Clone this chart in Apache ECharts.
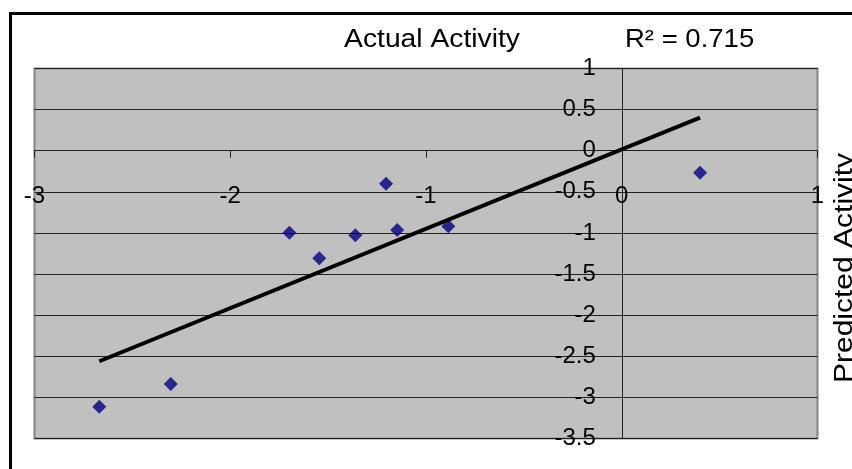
<!DOCTYPE html>
<html>
<head>
<meta charset="utf-8">
<script src="https://cdn.jsdelivr.net/npm/echarts@6/dist/echarts.min.js"></script>
<style>
  html, body { margin: 0; padding: 0; background: #fff; }
  #chart { width: 852px; height: 469px; }
</style>
</head>
<body>
<div id="chart"></div>
<script>
// 数据：实际活性 vs 预测活性
const actualActivity = [-2.669, -2.304, -1.698, -1.545, -1.361, -1.204, -1.147, -0.886, 0.400];
const predictedActivity = [-3.113, -2.837, -0.997, -1.308, -1.029, -0.401, -0.964, -0.919, -0.267];
const xRange = [-3, 1];
const yRange = [-3.5, 1];
const chartTitle = 'Actual Activity';
const yAxisTitle = 'Predicted Activity';
const rSquaredText = 'R\u00b2 = 0.715';

const FONT = '"Liberation Sans", Arial, sans-serif';
const W = 852, H = 469;
const gridBox = { left: 34.5, right: 34.5, top: 68.5, bottom: 30.5 };

// 最小二乘拟合趋势线
const n = actualActivity.length;
const meanX = actualActivity.reduce((a, b) => a + b, 0) / n;
const meanY = predictedActivity.reduce((a, b) => a + b, 0) / n;
let sxy = 0, sxx = 0;
for (let i = 0; i < n; i++) {
  sxy += (actualActivity[i] - meanX) * (predictedActivity[i] - meanY);
  sxx += (actualActivity[i] - meanX) ** 2;
}
const slope = sxy / sxx;
const intercept = meanY - slope * meanX;
const xMin = Math.min(...actualActivity);
const xMax = Math.max(...actualActivity);
const trendData = [xMin, xMax].map(x => [x, slope * x + intercept]);

const points = actualActivity.map((x, i) => [x, predictedActivity[i]]);

// 坐标轴交叉于原点（Excel 风格），用 offset 把轴移到 0 处
const gridW = W - gridBox.left - gridBox.right;
const gridH = H - gridBox.top - gridBox.bottom;
const xAxisOffset = -gridH * (0 - yRange[0]) / (yRange[1] - yRange[0]);
const yAxisOffset = -gridW * (0 - xRange[0]) / (xRange[1] - xRange[0]);

const chart = echarts.init(document.getElementById('chart'));

chart.setOption({
  backgroundColor: '#fff',
  animation: false,
  grid: Object.assign({
    outerBoundsMode: 'none',
    containLabel: false,
    show: true,
    backgroundColor: '#c0c0c0',
    borderColor: '#858585',
    borderWidth: 2
  }, gridBox),
  xAxis: {
    type: 'value',
    position: 'bottom',
    offset: xAxisOffset,
    min: xRange[0], max: xRange[1], interval: 1,
    axisLine: { onZero: false, lineStyle: { color: '#222', width: 1 } },
    axisTick: { show: true, length: 7, lineStyle: { color: '#222' } },
    axisLabel: { margin: 34, fontSize: 24, color: '#000', fontFamily: FONT, hideOverlap: false },
    splitLine: { show: false }
  },
  yAxis: {
    type: 'value',
    position: 'left',
    offset: yAxisOffset,
    min: yRange[0], max: yRange[1], interval: 0.5,
    axisLine: { onZero: false, lineStyle: { color: '#222', width: 1 } },
    axisTick: { show: true, length: 5, lineStyle: { color: '#222' } },
    axisLabel: {
      margin: 26, fontSize: 24, color: '#000', fontFamily: FONT,
      hideOverlap: false, padding: [4, 0, 0, 0]
    },
    splitLine: { show: true, lineStyle: { color: '#222', width: 1 } }
  },
  series: [
    {
      type: 'scatter',
      data: points,
      symbol: 'diamond',
      symbolSize: 14,
      itemStyle: { color: '#000080' },
      z: 3
    },
    {
      type: 'line',
      data: trendData,
      showSymbol: false,
      lineStyle: { color: '#000', width: 4 },
      z: 4
    }
  ],
  graphic: [
    {
      type: 'polyline',
      shape: { points: [[10.5, 469], [10.5, 13.5], [852, 13.5]] },
      style: { stroke: '#000', lineWidth: 3, fill: null },
      silent: true
    },
    {
      type: 'text',
      x: 432, y: 40,
      scaleX: 1.13,
      style: {
        text: chartTitle, fill: '#000', font: '25px ' + FONT,
        textAlign: 'center', textVerticalAlign: 'middle'
      }
    },
    {
      type: 'text',
      x: 625, y: 40,
      scaleX: 1.1,
      style: {
        text: rSquaredText, fill: '#000', font: '25px ' + FONT,
        textAlign: 'left', textVerticalAlign: 'middle'
      }
    },
    {
      type: 'text',
      x: 845, y: 268,
      rotation: Math.PI / 2,
      scaleX: 1.2,
      style: {
        text: yAxisTitle, fill: '#000', font: '25px ' + FONT,
        textAlign: 'center', textVerticalAlign: 'middle'
      }
    }
  ]
});
</script>
</body>
</html>
